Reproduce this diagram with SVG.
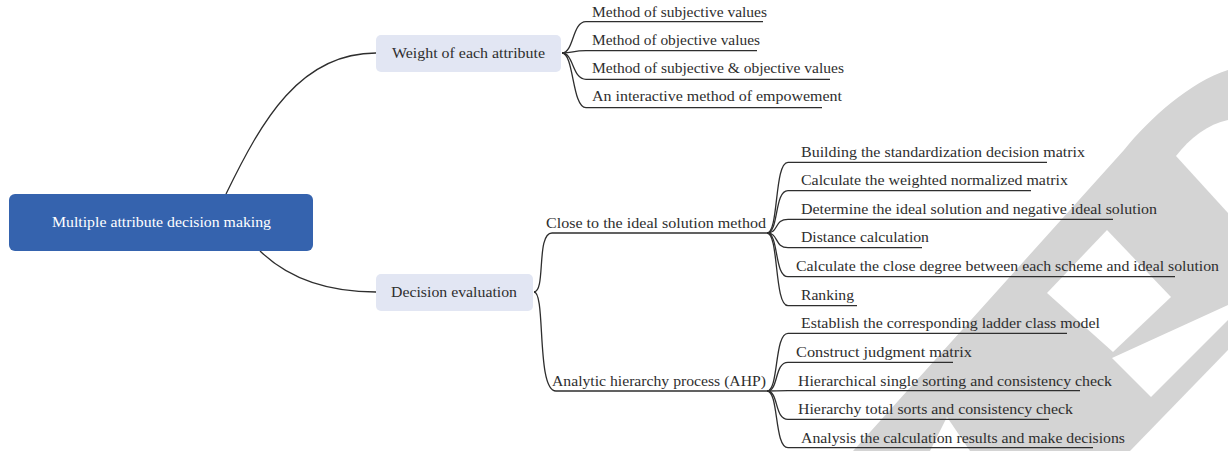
<svg xmlns="http://www.w3.org/2000/svg" width="1228" height="451" viewBox="0 0 1228 451">
<style>
  .t{font-family:"Liberation Serif","Times New Roman",serif;font-size:15.5px;fill:#2e2e2e}
  .w{fill:#ffffff}
  .wm{fill:#d4d4d4}
  .hole{fill:#ffffff}
  .c{fill:none;stroke:#2e2e2e;stroke-width:1.3}
</style>
<rect width="1228" height="451" fill="#ffffff"/>
<g id="watermark">
  <path class="wm" d="M853,451 L1124,150 C1150,118 1190,82 1228,70 L1228,451 Z"/>
  <path class="hole" d="M1176,156 C1190,138 1208,124 1228,120 L1228,213 Z"/>
  <path class="hole" d="M1047,293 L1107,230 L1171,297 L1113,352 Z"/>
  <path class="hole" d="M930,451 L947,417 L970,451 Z"/>
  <path class="hole" d="M1112,358 L1228,305 L1228,320 L1151,397 Z"/>
  <path class="hole" d="M1130,451 L1228,350 L1228,451 Z"/>
</g>
<g id="connectors">
  <path class="c" d="M226,194 C262,120 300,53 376,53"/>
  <path class="c" d="M260,251 C290,280 330,292 376,292"/>
  <path class="c" d="M562,53 C574,53 572,21.7 586,21.7 L763,21.7"/>
  <path class="c" d="M562,53 C574,53 572,50.7 586,50.7 L757,50.7"/>
  <path class="c" d="M562,53 C574,53 572,79.3 586,79.3 L830,79.3"/>
  <path class="c" d="M562,53 C574,53 572,107.7 586,107.7 L822,107.7"/>
  <path class="c" d="M534,292 C546,292 536,233 552,233 L767,233"/>
  <path class="c" d="M534,292 C546,292 536,391 556,391 L767,391"/>
  <path class="c" d="M767,233 C779,233 774,162.3 788,162.3 L1047,162.3"/>
  <path class="c" d="M767,233 C779,233 774,190.7 788,190.7 L1031,190.7"/>
  <path class="c" d="M767,233 C779,233 774,219.3 788,219.3 L1113,219.3"/>
  <path class="c" d="M767,233 C779,233 774,247.7 788,247.7 L922,247.7"/>
  <path class="c" d="M767,233 C779,233 774,276.7 788,276.7 L1175,276.7"/>
  <path class="c" d="M767,233 C779,233 774,305.7 788,305.7 L857,305.7"/>
  <path class="c" d="M767,391 C779,391 774,333.3 788,333.3 L1067,333.3"/>
  <path class="c" d="M767,391 C779,391 774,362.3 788,362.3 L953,362.3"/>
  <path class="c" d="M767,391 C779,391 774,390.7 788,390.7 L1080,390.7"/>
  <path class="c" d="M767,391 C779,391 774,419.3 788,419.3 L1049,419.3"/>
  <path class="c" d="M767,391 C779,391 774,447.7 788,447.7 L1093,447.7"/>
</g>
<g id="root">
  <rect x="9" y="194" width="304" height="57" rx="6" fill="#3563ae"/>
  <text class="t w" x="52" y="227" textLength="219" lengthAdjust="spacingAndGlyphs">Multiple attribute decision making</text>
</g>
<g id="weight">
  <rect x="376" y="35" width="185" height="37" rx="5" fill="#e2e6f3"/>
  <text class="t" x="392" y="58" textLength="153" lengthAdjust="spacingAndGlyphs">Weight of each attribute</text>
</g>
<g id="decision">
  <rect x="376" y="274" width="157" height="37" rx="5" fill="#e2e6f3"/>
  <text class="t" x="391" y="297" textLength="126" lengthAdjust="spacingAndGlyphs">Decision evaluation</text>
</g>
<g id="w1"><text class="t" x="592" y="16.7" textLength="175" lengthAdjust="spacingAndGlyphs">Method of subjective values</text></g>
<g id="w2"><text class="t" x="592" y="44.5" textLength="168" lengthAdjust="spacingAndGlyphs">Method of objective values</text></g>
<g id="w3"><text class="t" x="592" y="73" textLength="252" lengthAdjust="spacingAndGlyphs">Method of subjective &amp; objective values</text></g>
<g id="w4"><text class="t" x="592" y="101" textLength="250" lengthAdjust="spacingAndGlyphs">An interactive method of empowement</text></g>
<g id="close"><text class="t" x="546" y="227.5" textLength="220" lengthAdjust="spacingAndGlyphs">Close to the ideal solution method</text></g>
<g id="ahp"><text class="t" x="552" y="385.5" textLength="214" lengthAdjust="spacingAndGlyphs">Analytic hierarchy process (AHP)</text></g>
<g id="c1"><text class="t" x="801" y="157.3" textLength="284" lengthAdjust="spacingAndGlyphs">Building the standardization decision matrix</text></g>
<g id="c2"><text class="t" x="801" y="185" textLength="267" lengthAdjust="spacingAndGlyphs">Calculate the weighted normalized matrix</text></g>
<g id="c3"><text class="t" x="801" y="213.5" textLength="356" lengthAdjust="spacingAndGlyphs">Determine the ideal solution and negative ideal solution</text></g>
<g id="c4"><text class="t" x="801" y="242" textLength="128" lengthAdjust="spacingAndGlyphs">Distance calculation</text></g>
<g id="c5"><text class="t" x="796" y="271" textLength="423" lengthAdjust="spacingAndGlyphs">Calculate the close degree between each scheme and ideal solution</text></g>
<g id="c6"><text class="t" x="801" y="299.5" textLength="53" lengthAdjust="spacingAndGlyphs">Ranking</text></g>
<g id="a1"><text class="t" x="801" y="328" textLength="299" lengthAdjust="spacingAndGlyphs">Establish the corresponding ladder class model</text></g>
<g id="a2"><text class="t" x="796" y="357" textLength="176" lengthAdjust="spacingAndGlyphs">Construct judgment matrix</text></g>
<g id="a3"><text class="t" x="798" y="385.5" textLength="314" lengthAdjust="spacingAndGlyphs">Hierarchical single sorting and consistency check</text></g>
<g id="a4"><text class="t" x="798" y="414" textLength="275" lengthAdjust="spacingAndGlyphs">Hierarchy total sorts and consistency check</text></g>
<g id="a5"><text class="t" x="801" y="442.5" textLength="324" lengthAdjust="spacingAndGlyphs">Analysis the calculation results and make decisions</text></g>
</svg>
